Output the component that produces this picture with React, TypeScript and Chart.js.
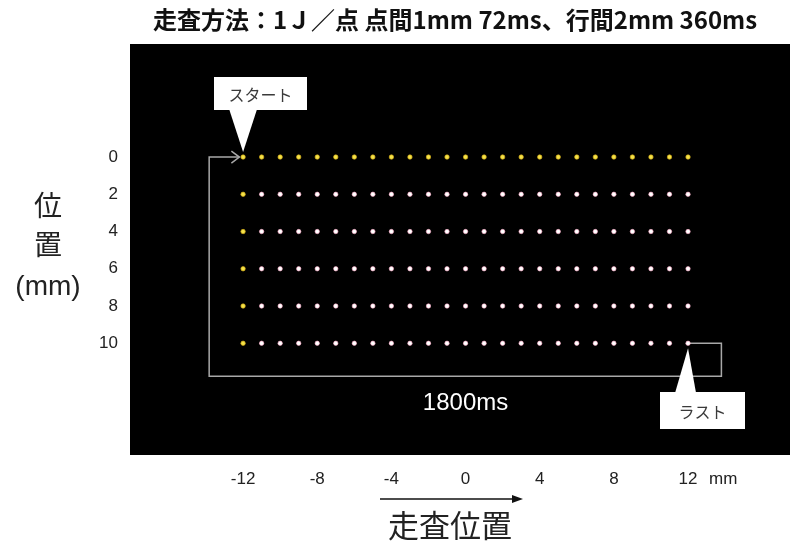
import React, { useEffect, useRef } from 'react';
import { Chart, registerables } from 'chart.js';

Chart.register(...registerables);

// ---- data ----
const titleText = '走査方法：1Ｊ／点 点間1mm 72ms、行間2mm 360ms';
const xPositions = [-12, -11, -10, -9, -8, -7, -6, -5, -4, -3, -2, -1, 0, 1, 2, 3, 4, 5, 6, 7, 8, 9, 10, 11, 12];
const yPositions = [0, 2, 4, 6, 8, 10];
const xTickValues = [-12, -8, -4, 0, 4, 8, 12];
const yTickValues = [0, 2, 4, 6, 8, 10];
const xUnit = 'mm';
const yTitleLines = ['位', '置', '(mm)'];
const xTitle = '走査位置';
const startLabel = 'スタート';
const lastLabel = 'ラスト';
const returnLabel = '1800ms';
// return path of the scan (mm)
const pathX = [12, 13.8, 13.8, -13.83, -13.83, -12.2];
const pathY = [10, 10, 11.77, 11.77, 0, 0];

const FONT_JP = '"Noto Sans CJK JP", "Noto Sans", sans-serif';
const FONT_LAT = '"Liberation Sans", Arial, sans-serif';

const gridPoints = yPositions.flatMap((y) => xPositions.map((x) => ({ x, y })));

const isYellow = (p: { x: number; y: number }) => p.y === yPositions[0] || p.x === xPositions[0];

function drawCallout(ctx: CanvasRenderingContext2D, box: [number, number, number, number], tri: [number, number, number, number, number], text: string) {
  const [bx, by, bw, bh] = box;
  const [tipX, tipY, baseY, baseL, baseR] = tri;
  ctx.save();
  ctx.fillStyle = '#ffffff';
  ctx.fillRect(bx, by, bw, bh);
  ctx.beginPath();
  ctx.moveTo(baseL, baseY);
  ctx.lineTo(tipX, tipY);
  ctx.lineTo(baseR, baseY);
  ctx.closePath();
  ctx.fill();
  ctx.fillStyle = '#3a3a3a';
  ctx.font = `16px ${FONT_JP}`;
  ctx.textAlign = 'center';
  ctx.textBaseline = 'middle';
  ctx.fillText(text, bx + bw / 2, by + bh / 2 + 1);
  ctx.restore();
}

const overlayPlugin = {
  id: 'overlay',
  beforeDraw(chart: any) {
    const { ctx, chartArea } = chart;
    ctx.save();
    ctx.fillStyle = '#ffffff';
    ctx.fillRect(0, 0, chart.width, chart.height);
    ctx.fillStyle = '#000000';
    ctx.fillRect(chartArea.left, chartArea.top, chartArea.right - chartArea.left, chartArea.bottom - chartArea.top);
    ctx.restore();
  },
  afterDraw(chart: any) {
    const { ctx } = chart;
    const xs = chart.scales.x;
    const ys = chart.scales.y;
    ctx.save();

    // title
    ctx.fillStyle = '#111111';
    ctx.font = `bold 24px ${FONT_JP}`;
    ctx.textAlign = 'center';
    ctx.textBaseline = 'middle';
    ctx.fillText(titleText, 455, 20);

    // y title
    ctx.fillStyle = '#222222';
    ctx.font = `28px ${FONT_JP}`;
    ctx.fillText(yTitleLines[0], 48, 205);
    ctx.fillText(yTitleLines[1], 48, 244);
    ctx.font = `28px ${FONT_LAT}`;
    ctx.fillText(yTitleLines[2], 48, 287);

    // unit after last x tick
    const lastTick = xTickValues[xTickValues.length - 1];
    ctx.font = `17px ${FONT_LAT}`;
    ctx.textAlign = 'left';
    ctx.fillStyle = '#222222';
    ctx.fillText(xUnit, xs.getPixelForValue(lastTick) + 21, 479);

    // x direction arrow and title
    ctx.strokeStyle = '#111111';
    ctx.fillStyle = '#111111';
    ctx.lineWidth = 1.5;
    ctx.beginPath();
    ctx.moveTo(380, 499);
    ctx.lineTo(516, 499);
    ctx.stroke();
    ctx.beginPath();
    ctx.moveTo(523, 499);
    ctx.lineTo(512, 495);
    ctx.lineTo(512, 503);
    ctx.closePath();
    ctx.fill();
    ctx.textAlign = 'center';
    ctx.font = `31px ${FONT_JP}`;
    ctx.fillStyle = '#222222';
    ctx.fillText(xTitle, 450, 525);

    // arrowhead at the end of return path
    const ax = xs.getPixelForValue(pathX[pathX.length - 1]);
    const ay = ys.getPixelForValue(pathY[pathY.length - 1]);
    ctx.strokeStyle = '#a8a8a8';
    ctx.lineWidth = 1.5;
    ctx.beginPath();
    ctx.moveTo(ax - 8, ay - 6);
    ctx.lineTo(ax, ay);
    ctx.lineTo(ax - 8, ay + 6);
    ctx.stroke();

    // return time label
    ctx.fillStyle = '#ffffff';
    ctx.font = `24px ${FONT_LAT}`;
    ctx.textAlign = 'center';
    ctx.textBaseline = 'alphabetic';
    ctx.fillText(returnLabel, xs.getPixelForValue(0), 410);
    ctx.restore();

    // callouts
    const sx = xs.getPixelForValue(xPositions[0]);
    const sy = ys.getPixelForValue(yPositions[0]);
    drawCallout(ctx, [214, 77, 93, 33], [sx, sy - 5, 109, sx - 14, sx + 14], startLabel);
    const lx = xs.getPixelForValue(xPositions[xPositions.length - 1]);
    const ly = ys.getPixelForValue(yPositions[yPositions.length - 1]);
    drawCallout(ctx, [660, 392, 85, 37], [lx, ly + 5, 393, lx - 13, lx + 8], lastLabel);
  },
};

const zeroPad = (s: any) => {
  s.paddingLeft = 0;
  s.paddingRight = 0;
  s.paddingTop = 0;
  s.paddingBottom = 0;
};

export default function App() {
  const ref = useRef<HTMLCanvasElement | null>(null);
  useEffect(() => {
    if (!ref.current) return;
    const chart = new Chart(ref.current, {
      type: 'scatter',
      data: {
        datasets: [
          {
            label: 'path',
            data: pathX.map((x, i) => ({ x, y: pathY[i] })),
            showLine: true,
            borderColor: '#a8a8a8',
            borderWidth: 1.5,
            pointRadius: 0,
            fill: false,
            order: 2,
          },
          {
            label: 'points',
            data: gridPoints,
            pointRadius: 2.2,
            pointBorderWidth: 1,
            backgroundColor: (c: any) => (c.raw && isYellow(c.raw) ? '#f4e24a' : '#ffffff'),
            borderColor: (c: any) => (c.raw && isYellow(c.raw) ? 'rgba(210,170,20,0.7)' : 'rgba(255,170,200,0.6)'),
            order: 1,
          } as any,
        ],
      },
      options: {
        animation: false,
        responsive: false,
        maintainAspectRatio: false,
        layout: { autoPadding: false, padding: { top: 44, left: 0, right: 0, bottom: 0 } },
        plugins: { legend: { display: false }, tooltip: { enabled: false }, title: { display: false } },
        scales: {
          x: {
            type: 'linear',
            min: -18.1,
            max: 17.5,
            grid: { display: false, drawTicks: false },
            border: { display: false },
            ticks: { color: '#222222', font: { family: FONT_LAT, size: 17 }, padding: 14, maxRotation: 0 },
            afterBuildTicks: (s: any) => {
              s.ticks = xTickValues.map((v) => ({ value: v }));
            },
            afterFit: (s: any) => {
              s.height = 92;
              zeroPad(s);
            },
          },
          y: {
            type: 'linear',
            reverse: true,
            min: -6.07,
            max: 16.0,
            grid: { display: false, drawTicks: false },
            border: { display: false },
            ticks: { color: '#222222', font: { family: FONT_LAT, size: 17 }, padding: 12 },
            afterBuildTicks: (s: any) => {
              s.ticks = yTickValues.map((v) => ({ value: v }));
            },
            afterFit: (s: any) => {
              s.width = 130;
              zeroPad(s);
            },
          },
        },
      } as any,
      plugins: [overlayPlugin],
    });
    return () => chart.destroy();
  }, []);
  return (
    <div style={{ position: 'fixed', left: 0, top: 0, width: 790, height: 547 }}>
      <canvas ref={ref} width={790} height={547} style={{ width: 790, height: 547, display: 'block' }} />
    </div>
  );
}
